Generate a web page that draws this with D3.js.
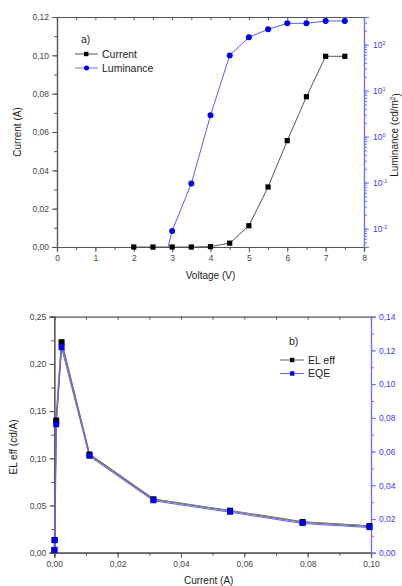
<!DOCTYPE html>
<html><head><meta charset="utf-8">
<script src="https://cdn.jsdelivr.net/npm/d3@7"></script>
<style>body{margin:0;background:#fff}svg{display:block;font-family:"Liberation Sans",Arial,sans-serif}</style>
</head><body>
<svg id="c" width="402" height="586"></svg>
<script>
// Chart a) data
const voltage = [2, 2.5, 3, 3.5, 4, 4.5, 5, 5.5, 6, 6.5, 7, 7.5];
const currentA = [0, 0, 0, 0, 0.0002, 0.002, 0.0111, 0.0313, 0.0555, 0.0784, 0.0995, 0.0995];
const lumVoltage = [2.5, 3, 3.5, 4, 4.5, 5, 5.5, 6, 6.5, 7, 7.5];
const luminance = [0.0002, 0.0089, 0.095, 2.9, 58, 144, 215, 290, 290, 326, 326];
const voltTicks = [0, 1, 2, 3, 4, 5, 6, 7, 8];
const currTicks = [0, 0.02, 0.04, 0.06, 0.08, 0.10, 0.12];
const lumTicks = [0.01, 0.1, 1, 10, 100];
const lumExp = ["-2", "-1", "0", "1", "2"];
// Chart b) data
const currentB = [0.00003, 0.0001, 0.0006, 0.0023, 0.0111, 0.0313, 0.0555, 0.0784, 0.0995];
const elEff = [0.003, 0.0135, 0.14, 0.223, 0.104, 0.0566, 0.0445, 0.0325, 0.0282];
const eqe = [0.0016, 0.0074, 0.0762, 0.1219, 0.0575, 0.0311, 0.0243, 0.0176, 0.0152];
const currBTicks = [0, 0.02, 0.04, 0.06, 0.08, 0.10];
const elTicks = [0, 0.05, 0.10, 0.15, 0.20, 0.25];
const eqeTicks = [0, 0.02, 0.04, 0.06, 0.08, 0.10, 0.12, 0.14];

const fmt2 = d => d3.format(".2f")(d).replace(".", ",");
const svg = d3.select("#c");
const AX = "#555", BLUE = "#7070ff", BLUET = "#3a3aff", LBL = "#444";
const TFS = 8.5, TITLE = 10, LEG = 10.5;

function styleAxis(g, col, tcol) {
  g.selectAll("path").attr("stroke", col).attr("stroke-width", 1.2);
  g.selectAll("line").attr("stroke", col);
  g.selectAll("text").attr("fill", tcol).attr("font-size", TFS);
}

// ---------- Chart a ----------
{
  const L = 57, R = 364, T = 17, B = 247;
  const x = d3.scaleLinear().domain([0, 8]).range([L, R]);
  const y = d3.scaleLinear().domain([0, 0.12]).range([B, T]);
  const yr = d3.scaleLog().domain([Math.pow(10, -2.4), Math.pow(10, 2.6)]).range([B, T]);
  const defs = svg.append("defs");
  defs.append("clipPath").attr("id", "clipA").append("rect").attr("x", L).attr("y", T).attr("width", R - L).attr("height", B - T);

  const minorX = d3.range(0, 8.01, 0.5);
  svg.append("g").attr("transform", `translate(0,${B})`).call(d3.axisBottom(x).tickValues(minorX).tickSize(3).tickFormat("")).call(g => styleAxis(g, AX, LBL));
  svg.append("g").attr("transform", `translate(0,${B})`).call(d3.axisBottom(x).tickValues(voltTicks).tickSize(5).tickPadding(3).tickFormat(d3.format("d"))).call(g => styleAxis(g, AX, LBL));
  svg.append("g").attr("transform", `translate(0,${T})`).call(d3.axisBottom(x).tickValues(minorX).tickSize(3).tickFormat("")).call(g => styleAxis(g, AX, LBL));
  const minorY = d3.range(0, 0.1201, 0.01);
  svg.append("g").attr("transform", `translate(${L},0)`).call(d3.axisLeft(y).tickValues(minorY).tickSize(3).tickFormat("")).call(g => styleAxis(g, AX, LBL));
  svg.append("g").attr("transform", `translate(${L},0)`).call(d3.axisLeft(y).tickValues(currTicks).tickSize(5).tickPadding(3).tickFormat(fmt2)).call(g => styleAxis(g, AX, LBL));
  const minorLog = [];
  for (let e = -3; e <= 2; e++) for (let m = 1; m <= 9; m++) { const v = m * Math.pow(10, e); if (v >= yr.domain()[0] && v <= yr.domain()[1]) minorLog.push(v); }
  svg.append("g").attr("transform", `translate(${R},0)`).call(d3.axisRight(yr).tickValues(minorLog).tickSize(3).tickFormat("")).call(g => styleAxis(g, BLUE, BLUET));
  const ra = svg.append("g").attr("transform", `translate(${R},0)`).call(d3.axisRight(yr).tickValues(lumTicks).tickSize(5).tickPadding(3).tickFormat(""));
  styleAxis(ra, BLUE, BLUET);
  ra.selectAll(".tick").append("text").attr("x", 9).attr("dy", "0.35em").attr("fill", BLUET).attr("font-size", TFS)
    .each(function(d, i) { const t = d3.select(this); t.append("tspan").text("10"); t.append("tspan").attr("dy", "-0.5em").attr("font-size", 5.5).text(lumExp[i]); });

  const gA = svg.append("g").attr("clip-path", "url(#clipA)");
  gA.append("path").datum(voltage.map((v, i) => [v, currentA[i]]))
    .attr("d", d3.line().x(d => x(d[0])).y(d => y(d[1]))).attr("fill", "none").attr("stroke", "#555").attr("stroke-width", 1);
  gA.append("path").datum(lumVoltage.map((v, i) => [v, luminance[i]]))
    .attr("d", d3.line().x(d => x(d[0])).y(d => yr(d[1]))).attr("fill", "none").attr("stroke", "#5a5aff").attr("stroke-width", 1);
  svg.append("g").selectAll("rect").data(voltage.map((v, i) => [v, currentA[i]])).join("rect")
    .attr("x", d => x(d[0]) - 2.6).attr("y", d => y(d[1]) - 2.6).attr("width", 5.2).attr("height", 5.2).attr("fill", "#000");
  svg.append("g").selectAll("circle").data(lumVoltage.map((v, i) => [v, luminance[i]]).filter(d => yr(d[1]) <= B)).join("circle")
    .attr("cx", d => x(d[0])).attr("cy", d => yr(d[1])).attr("r", 3).attr("fill", "#0000ee");

  svg.append("text").attr("x", (L + R) / 2).attr("y", 279).attr("text-anchor", "middle").attr("font-size", TITLE).attr("fill", "#222").text("Voltage (V)");
  svg.append("text").attr("transform", `translate(21,${(T + B) / 2}) rotate(-90)`).attr("text-anchor", "middle").attr("font-size", TITLE).attr("fill", "#222").text("Current (A)");
  const rt = svg.append("text").attr("transform", `translate(398,${(T + B) / 2 + 3}) rotate(-90)`).attr("text-anchor", "middle").attr("font-size", TITLE).attr("fill", "#222");
  rt.append("tspan").text("Luminance (cd/m");
  rt.append("tspan").attr("dy", "-0.45em").attr("font-size", 6.5).text("2");
  rt.append("tspan").attr("dy", "0.45em").text(")");

  svg.append("text").attr("x", 81).attr("y", 43).attr("font-size", LEG).attr("fill", "#222").text("a)");
  const leg = [["Current", "#555", "#000", "rect"], ["Luminance", "#7070ff", "#0000ee", "circle"]];
  leg.forEach((l, i) => {
    const yy = 54 + i * 14;
    svg.append("line").attr("x1", 75).attr("x2", 98).attr("y1", yy).attr("y2", yy).attr("stroke", l[1]).attr("stroke-width", 1);
    if (l[3] === "rect") svg.append("rect").attr("x", 84).attr("y", yy - 2.2).attr("width", 4.4).attr("height", 4.4).attr("fill", l[2]);
    else svg.append("circle").attr("cx", 86.5).attr("cy", yy).attr("r", 2.5).attr("fill", l[2]);
    svg.append("text").attr("x", 102).attr("y", yy + 3.6).attr("font-size", LEG).attr("fill", "#222").text(l[0]);
  });
}

// ---------- Chart b ----------
{
  const L = 54.3, R = 371, T = 316.7, B = 552.7;
  const x = d3.scaleLinear().domain([0, 0.10]).range([L, R]);
  const y = d3.scaleLinear().domain([0, 0.25]).range([B, T]);
  const yr = d3.scaleLinear().domain([0, 0.14]).range([B, T]);
  const minorX = d3.range(0, 0.1001, 0.01);
  svg.append("g").attr("transform", `translate(0,${B})`).call(d3.axisBottom(x).tickValues(minorX).tickSize(3).tickFormat("")).call(g => styleAxis(g, AX, LBL));
  svg.append("g").attr("transform", `translate(0,${B})`).call(d3.axisBottom(x).tickValues(currBTicks).tickSize(5).tickPadding(3).tickFormat(fmt2)).call(g => styleAxis(g, AX, LBL));
  svg.append("g").attr("transform", `translate(0,${T})`).call(d3.axisBottom(x).tickValues(minorX).tickSize(3).tickFormat("")).call(g => styleAxis(g, AX, LBL));
  const minorY = d3.range(0, 0.2501, 0.025);
  svg.append("g").attr("transform", `translate(${L},0)`).call(d3.axisLeft(y).tickValues(minorY).tickSize(3).tickFormat("")).call(g => styleAxis(g, AX, LBL));
  svg.append("g").attr("transform", `translate(${L},0)`).call(d3.axisLeft(y).tickValues(elTicks).tickSize(5).tickPadding(3).tickFormat(fmt2)).call(g => styleAxis(g, AX, LBL));
  const minorR = d3.range(0, 0.1401, 0.01);
  svg.append("g").attr("transform", `translate(${R},0)`).call(d3.axisRight(yr).tickValues(minorR).tickSize(3).tickFormat("")).call(g => styleAxis(g, BLUE, BLUET));
  svg.append("g").attr("transform", `translate(${R},0)`).call(d3.axisRight(yr).tickValues(eqeTicks).tickSize(5).tickPadding(3).tickFormat(fmt2)).call(g => styleAxis(g, BLUE, BLUET));

  const elPts = currentB.map((c, i) => [c, elEff[i]]);
  const eqPts = currentB.map((c, i) => [c, eqe[i]]);
  svg.append("path").datum(elPts).attr("d", d3.line().x(d => x(d[0])).y(d => y(d[1])))
    .attr("fill", "none").attr("stroke", "#444").attr("stroke-width", 1.6);
  svg.append("path").datum(elPts).attr("d", d3.line().x(d => x(d[0])).y(d => y(d[1])))
    .attr("fill", "none").attr("stroke", "#bbb").attr("stroke-width", 0.6);
  svg.append("path").datum(eqPts).attr("d", d3.line().x(d => x(d[0])).y(d => yr(d[1]) + 0.5))
    .attr("fill", "none").attr("stroke", "#6060ff").attr("stroke-width", 1);
  svg.append("g").selectAll("rect").data(elPts).join("rect")
    .attr("x", d => x(d[0]) - 3).attr("y", d => y(d[1]) - 3).attr("width", 6).attr("height", 6).attr("fill", "#000");
  svg.append("g").selectAll("rect").data(eqPts).join("rect")
    .attr("x", d => x(d[0]) - 3).attr("y", d => yr(d[1]) - 3).attr("width", 6).attr("height", 6).attr("fill", "#0000ee");

  svg.append("text").attr("x", (L + R) / 2 - 4).attr("y", 584).attr("text-anchor", "middle").attr("font-size", TITLE).attr("fill", "#222").text("Current (A)");
  svg.append("text").attr("transform", `translate(17,447) rotate(-90)`).attr("text-anchor", "middle").attr("font-size", TITLE).attr("fill", "#222").text("EL eff (cd/A)");

  svg.append("text").attr("x", 289).attr("y", 345).attr("font-size", LEG).attr("fill", "#222").text("b)");
  const leg = [["EL eff", "#666", "#000"], ["EQE", "#6060ff", "#0000ee"]];
  leg.forEach((l, i) => {
    const yy = 360 + i * 13.5;
    svg.append("line").attr("x1", 280).attr("x2", 304).attr("y1", yy).attr("y2", yy).attr("stroke", l[1]).attr("stroke-width", 1);
    svg.append("rect").attr("x", 290).attr("y", yy - 2.2).attr("width", 4.4).attr("height", 4.4).attr("fill", l[2]);
    svg.append("text").attr("x", 308).attr("y", yy + 3.6).attr("font-size", LEG).attr("fill", "#222").text(l[0]);
  });
}
</script>
</body></html>
